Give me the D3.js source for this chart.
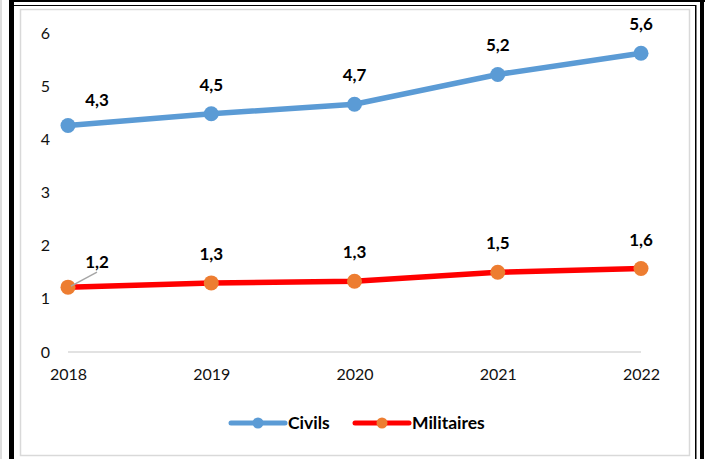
<!DOCTYPE html>
<html>
<head>
<meta charset="utf-8">
<script src="https://cdn.jsdelivr.net/npm/d3@7"></script>
<style>
  body { margin: 0; background: #fff; }
  svg { display: block; font-family: Lato, "Open Sans", sans-serif; }
</style>
</head>
<body>
<div id="chart"></div>
<script>
// data
const years = ["2018", "2019", "2020", "2021", "2022"];
const civils = [4.26, 4.48, 4.66, 5.22, 5.62];
const militaires = [1.22, 1.30, 1.33, 1.50, 1.57];
const yTicks = [0, 1, 2, 3, 4, 5, 6];
const seriesNames = ["Civils", "Militaires"];

const W = 711, H = 459;
const plot = { left: 68, right: 641, top: 33, bottom: 352 };

const svg = d3.select("#chart").append("svg")
    .attr("width", W)
    .attr("height", H);

// outer frame (the page border around the chart)
svg.append("rect").attr("x", 0).attr("y", 0).attr("width", 2).attr("height", H).attr("fill", "#ddd");
svg.append("rect").attr("x", 9).attr("y", 0).attr("width", 5).attr("height", H).attr("fill", "#000");
svg.append("rect").attr("x", 9).attr("y", 0).attr("width", 696).attr("height", 2).attr("fill", "#000");
svg.append("rect").attr("x", 9).attr("y", 5).attr("width", 687).attr("height", 1).attr("fill", "#000");
svg.append("rect").attr("x", 695).attr("y", 5).attr("width", 1.5).attr("height", H).attr("fill", "#000");
svg.append("rect").attr("x", 700).attr("y", 0).attr("width", 4).attr("height", H).attr("fill", "#000");

// chart area border
svg.append("rect")
    .attr("x", 20.5).attr("y", 9.5)
    .attr("width", 669).attr("height", 446)
    .attr("fill", "#fff")
    .attr("stroke", "#d9d9d9")
    .attr("stroke-width", 1.5);

const x = d3.scalePoint()
    .domain(years)
    .range([plot.left, plot.right]);

const y = d3.scaleLinear()
    .domain([0, 6])
    .range([plot.bottom, plot.top]);

// y axis labels (no line)
const yAxis = d3.axisLeft(y).tickValues(yTicks).tickFormat(d3.format("d")).tickSize(0).tickPadding(0);
svg.append("g")
    .attr("transform", `translate(50,0)`)
    .call(yAxis)
    .call(g => g.select(".domain").remove())
    .call(g => g.selectAll("text")
        .attr("font-family", "Lato, 'Open Sans', sans-serif")
        .attr("font-size", 16)
        .attr("fill", "#111"));

// baseline
svg.append("line")
    .attr("x1", plot.left).attr("x2", plot.right)
    .attr("y1", y(0)).attr("y2", y(0))
    .attr("stroke", "#d9d9d9")
    .attr("stroke-width", 1.5);

// x axis labels
const xAxis = d3.axisBottom(x).tickSize(0).tickPadding(0);
svg.append("g")
    .attr("transform", `translate(0,${y(0) + 17})`)
    .call(xAxis)
    .call(g => g.select(".domain").remove())
    .call(g => g.selectAll("text")
        .attr("font-family", "Lato, 'Open Sans', sans-serif")
        .attr("font-size", 16)
        .attr("fill", "#111"));

const fmt = v => d3.format(".1f")(v).replace(".", ",");

const series = [
    { name: seriesNames[0], values: civils, line: "#5b9bd5", dot: "#5b9bd5" },
    { name: seriesNames[1], values: militaires, line: "#ff0000", dot: "#ed7d31" }
];

const line = d3.line()
    .x((d, i) => x(years[i]))
    .y(d => y(d));

series.forEach(s => {
    svg.append("path")
        .datum(s.values)
        .attr("d", line)
        .attr("fill", "none")
        .attr("stroke", s.line)
        .attr("stroke-width", 5.5)
        .attr("stroke-linecap", "round");

    svg.selectAll(null)
        .data(s.values)
        .join("circle")
        .attr("cx", (d, i) => x(years[i]))
        .attr("cy", d => y(d))
        .attr("r", 7.5)
        .attr("fill", s.dot);
});

// leader line for the first militaires label
svg.append("line")
    .attr("x1", x(years[0]) + 3).attr("y1", y(militaires[0]) - 1)
    .attr("x2", x(years[0]) + 29).attr("y2", y(militaires[0]) - 15)
    .attr("stroke", "#a6a6a6")
    .attr("stroke-width", 1.5);

// data labels
series.forEach((s, si) => {
    svg.selectAll(null)
        .data(s.values)
        .join("text")
        .attr("x", (d, i) => x(years[i]) + (i === 0 ? 29 : 0))
        .attr("y", (d, i) => y(d) - (i === 0 ? (si === 0 ? 20 : 19) : 23))
        .attr("text-anchor", "middle")
        .attr("font-family", "Lato, 'Open Sans', sans-serif")
        .attr("font-size", 17)
        .attr("font-weight", "bold")
        .attr("fill", "#000")
        .text(d => fmt(d));
});

// legend
const legendY = 423;
const legendItems = [
    { x0: 231, s: series[0] },
    { x0: 355, s: series[1] }
];
legendItems.forEach(it => {
    svg.append("line")
        .attr("x1", it.x0).attr("x2", it.x0 + 54)
        .attr("y1", legendY).attr("y2", legendY)
        .attr("stroke", it.s.line)
        .attr("stroke-width", 5)
        .attr("stroke-linecap", "round");
    svg.append("circle")
        .attr("cx", it.x0 + 27).attr("cy", legendY)
        .attr("r", 5.5)
        .attr("fill", it.s.dot);
    svg.append("text")
        .attr("x", it.x0 + 57).attr("y", legendY + 6)
        .attr("font-family", "Lato, 'Open Sans', sans-serif")
        .attr("font-size", 17.5)
        .attr("font-weight", "bold")
        .attr("fill", "#000")
        .text(it.s.name);
});
</script>
</body>
</html>
